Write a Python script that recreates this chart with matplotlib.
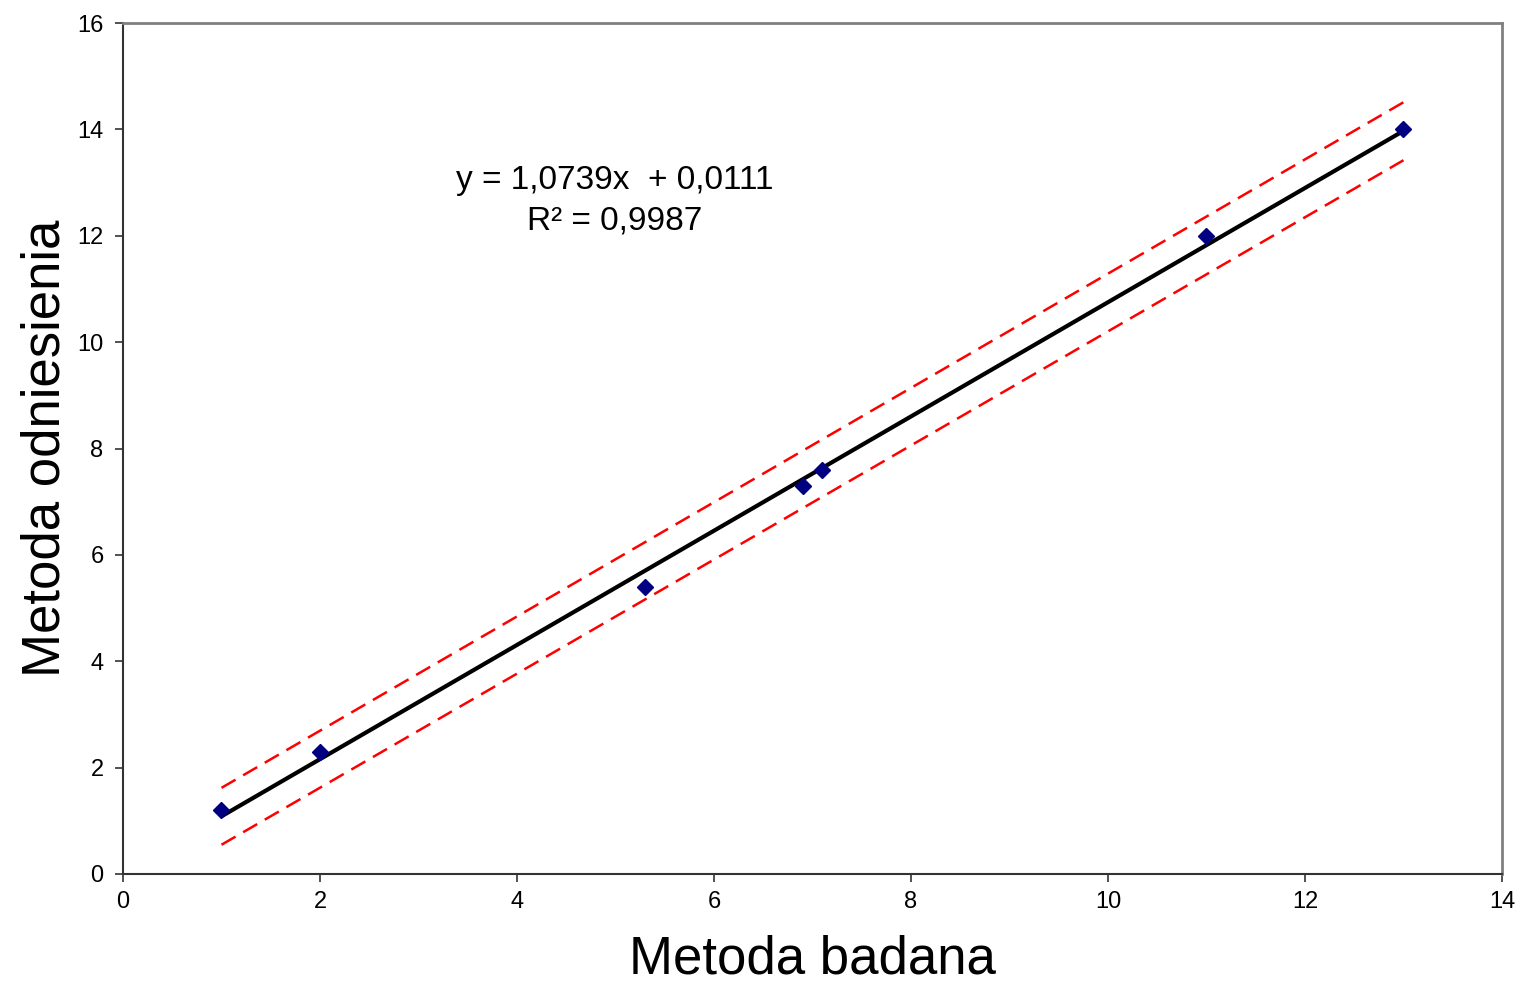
import matplotlib
matplotlib.use("Agg")
import matplotlib.pyplot as plt

plt.rcParams['font.family'] = ['Liberation Sans', 'DejaVu Sans']

# Data
x_vals = [1.0, 2.0, 5.3, 6.9, 7.1, 11.0, 13.0]
y_vals = [1.2, 2.3, 5.4, 7.3, 7.6, 12.0, 14.0]
slope = 1.0739
intercept = 0.0111
fit_x = [1.0, 13.0]
band_x = [1.0, 13.0]
band_upper = [1.62, 14.51]
band_lower = [0.55, 13.42]
x_ticks = [0, 2, 4, 6, 8, 10, 12, 14]
y_ticks = [0, 2, 4, 6, 8, 10, 12, 14, 16]
eq_text = "y = 1,0739x  + 0,0111\nR² = 0,9987"
x_label = "Metoda badana"
y_label = "Metoda odniesienia"

fig = plt.figure(figsize=(15.23, 9.83), dpi=100)
ax = fig.add_axes([123/1523, 109/983, (1502-123)/1523, (874-23)/983])

fit_y = [slope * v + intercept for v in fit_x]
ax.plot(band_x, band_upper, color='#ff0000', lw=1.8, dashes=(6.5, 3.5))
ax.plot(band_x, band_lower, color='#ff0000', lw=1.8, dashes=(6.5, 3.5))
ax.plot(fit_x, fit_y, color='black', lw=3, solid_capstyle='butt')
ax.plot(x_vals, y_vals, linestyle='none', marker='D', markersize=8,
        color='#000080', zorder=5)

ax.set_xlim(0, 14)
ax.set_ylim(0, 16)
ax.set_xticks(x_ticks)
ax.set_yticks(y_ticks)
ax.tick_params(axis='both', direction='out', length=6, width=1.2,
               labelsize=17, color='#333333')
ax.tick_params(axis='x', pad=6)
ax.tick_params(axis='y', pad=8)

for side in ['left', 'bottom']:
    ax.spines[side].set_color('#333333')
    ax.spines[side].set_linewidth(1.5)
for side in ['top', 'right']:
    ax.spines[side].set_color('#808080')
    ax.spines[side].set_linewidth(2)

ax.text(4.99, 12.66, eq_text, fontsize=24, ha='center', va='center', linespacing=1.42)

ax.set_xlabel(x_label, fontsize=38, labelpad=16)
ax.set_ylabel(y_label, fontsize=38, labelpad=5)

fig.savefig("out.png", dpi=100, facecolor='white')
